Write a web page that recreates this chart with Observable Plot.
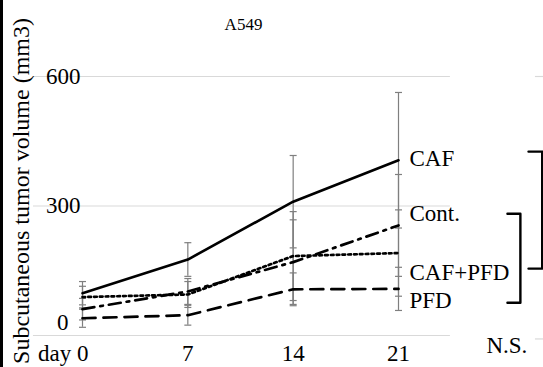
<!DOCTYPE html>
<html>
<head>
<meta charset="utf-8">
<script src="https://cdn.jsdelivr.net/npm/d3@7"></script>
<script src="https://cdn.jsdelivr.net/npm/@observablehq/plot@0.6"></script>
<style>
  html, body { margin: 0; padding: 0; background: #fff; }
  #wrap { position: relative; width: 543px; height: 367px; overflow: hidden; font-family: 'Liberation Serif', 'Times New Roman', serif; }
  #wrap svg, #wrap svg text { font-family: 'Liberation Serif', 'Times New Roman', serif !important; }
  #stripe { position: absolute; left: 0; top: 0; width: 3px; height: 367px; background: #000; }
</style>
</head>
<body>
<div id="wrap"><div id="stripe"></div></div>
<script>
// ---- data ----
const days = [0, 7, 14, 21];
const seriesNames = ["CAF", "Cont.", "CAF+PFD", "PFD"];
const cafMean    = [98, 176, 310, 406];
const cafErr     = [27, 39, 107, 157];
const contMean   = [61, 102, 170, 255];
const contErr    = [25, 30, 98, 118];
const cafPfdMean = [89, 95, 184, 191];
const cafPfdErr  = [25, 30, 103, 100];
const pfdMean    = [40, 47, 107, 108];
const pfdErr     = [21, 23, 38, 50];

const yTicks = [300, 600];
const xTicks = [7, 14, 21];
const titleText = "A549";
const yTitle = "Subcutaneous tumor volume (mm3)";
// annotation label heights (data units)
const labelY = [410, 282, 146, 81];
// significance brackets (data units): [xLeft, xRight, yTop, yBottom]
const bracketSmall = [28.24, 29.1, 282, 76];
const bracketBig = [29.64, 30.55, 426, 155];
const nsLabel = {x: 28.2, y: -23, text: "N.S."};

// ---- build tables ----
const means = [cafMean, contMean, cafPfdMean, pfdMean];
const errs = [cafErr, contErr, cafPfdErr, pfdErr];
const styles = [
  {dash: null, width: 2.6},
  {dash: "12,6,2.7,6", width: 2.7},
  {dash: "2.7,3.1", width: 2.7},
  {dash: "13,8", width: 2.7}
];
const rows = [];
seriesNames.forEach((s, i) => days.forEach((d, j) => rows.push({
  series: s, day: d, v: means[i][j], lo: means[i][j] - errs[i][j], hi: means[i][j] + errs[i][j]
})));
const caps = rows.flatMap(r => [{day: r.day, v: r.lo}, {day: r.day, v: r.hi}]);
const labels = seriesNames.map((s, i) => ({x: 21, y: labelY[i], text: s}));
const gridRows = [0, 300, 600].map(v => ({y: v, x1: -3.26, x2: 24.45}));
const edgeRows = [600, -8].map(v => ({y: v, x1: 30.1, x2: 30.7}));
const bracketPath = (b) => [
  {x: b[0], y: b[2]}, {x: b[1], y: b[2]}, {x: b[1], y: b[3]}, {x: b[0], y: b[3]}
];

const capSymbol = {
  draw(ctx, size) {
    const w = Math.sqrt(size / Math.PI);
    ctx.moveTo(-w, 0);
    ctx.lineTo(w, 0);
  }
};

const font = "'Liberation Serif', 'Times New Roman', serif";
const T = {fontFamily: font, fill: "black"};
const FS = 23;
const marks = [
  Plot.ruleY(gridRows, {y: "y", x1: "x1", x2: "x2", stroke: "#d9d9d9", strokeWidth: 1.2}),
  Plot.ruleY(edgeRows, {y: "y", x1: "x1", x2: "x2", stroke: "#d9d9d9", strokeWidth: 1.2}),
  Plot.axisY(yTicks, {...T, tickSize: 0, tickPadding: 2, fontSize: FS, stroke: "white", strokeWidth: 6, paintOrder: "stroke"}),
  Plot.axisY([0], {...T, tickSize: 0, tickPadding: 14, dy: -13, fontSize: FS}),
  Plot.axisX(xTicks, {...T, tickSize: 0, tickPadding: 9, fontSize: FS}),
  Plot.text([{x: 0, t: "day 0"}], {...T, x: "x", text: "t", frameAnchor: "bottom", lineAnchor: "top", textAnchor: "end", dx: 6, dy: 9, fontSize: FS}),
  Plot.ruleX(rows, {x: "day", y1: "lo", y2: "hi", stroke: "#7f7f7f", strokeWidth: 1.2}),
  Plot.dot(caps, {x: "day", y: "v", symbol: capSymbol, r: 3.5, stroke: "#7f7f7f", strokeWidth: 1.2, fill: "none"}),
  ...seriesNames.map((s, i) => Plot.line(rows.filter(r => r.series === s), {
    x: "day", y: "v", stroke: "black", strokeWidth: styles[i].width,
    strokeDasharray: styles[i].dash || undefined
  })),
  Plot.text(labels, {...T, x: "x", y: "y", text: "text", textAnchor: "start", dx: 11, fontSize: FS}),
  Plot.line(bracketPath(bracketSmall), {x: "x", y: "y", stroke: "black", strokeWidth: 2.4}),
  Plot.line(bracketPath(bracketBig), {x: "x", y: "y", stroke: "black", strokeWidth: 2.4}),
  Plot.text([nsLabel], {...T, x: "x", y: "y", text: "text", fontSize: FS}),
  Plot.text([titleText], {...T, frameAnchor: "top", textAnchor: "middle", dx: 3, dy: -59, fontSize: 17}),
  Plot.text([yTitle], {...T, frameAnchor: "left", textAnchor: "middle", rotate: -90, dx: -61, dy: -15, fontSize: 24})
];

const chart = Plot.plot({
  width: 543,
  height: 367,
  marginLeft: 82,
  marginRight: 145,
  marginTop: 76,
  marginBottom: 32,
  x: {domain: [0, 21], axis: null},
  y: {domain: [0, 600], axis: null},
  style: {fontFamily: font, fontSize: "22px", color: "black", background: "white", overflow: "visible"},
  marks
});
chart.style.position = "absolute";
chart.style.left = "0px";
chart.style.top = "0px";
const wrap = document.getElementById("wrap");
wrap.insertBefore(chart, wrap.firstChild);
</script>
</body>
</html>
